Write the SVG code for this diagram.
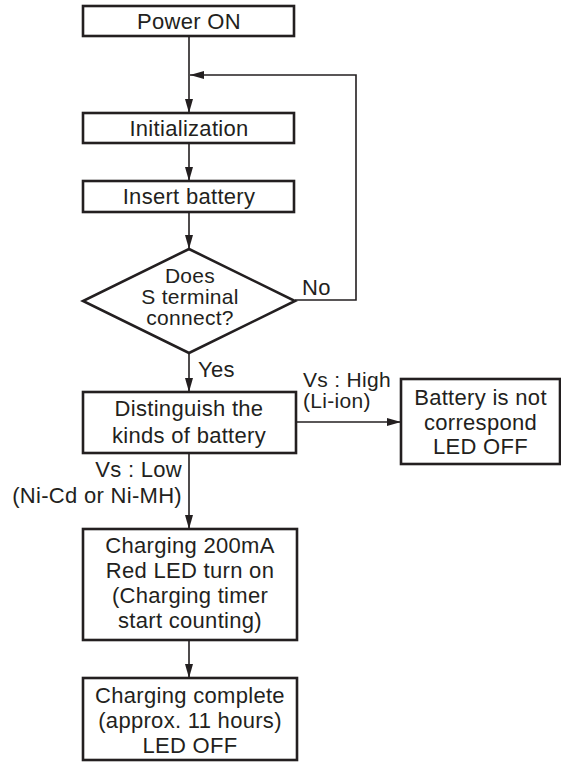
<svg xmlns="http://www.w3.org/2000/svg" width="561" height="764" viewBox="0 0 561 764">
<style>
.box{fill:#fff;stroke:#231f20;stroke-width:2.6}
.ln{fill:none;stroke:#231f20;stroke-width:1.6}
text{font-family:"Liberation Sans",Arial,sans-serif;font-size:22px;fill:#231f20;letter-spacing:0.3px}
.s{font-size:21px}
.c{text-anchor:middle}
.r{text-anchor:end}
</style>
<defs>
<marker id="ah" viewBox="0 0 14 8" refX="14" refY="4" markerWidth="14" markerHeight="8" markerUnits="userSpaceOnUse" orient="auto">
<path d="M0,0 L14,4 L0,8 Z" fill="#231f20"/>
</marker>
</defs>
<rect width="561" height="764" fill="#fff"/>
<g id="connectors">
<line class="ln" x1="189" y1="36" x2="189" y2="113" marker-end="url(#ah)"/>
<line class="ln" x1="189" y1="143" x2="189" y2="181" marker-end="url(#ah)"/>
<line class="ln" x1="189" y1="212" x2="189" y2="249" marker-end="url(#ah)"/>
<polyline class="ln" points="295,300 356,300 356,75 190,75" marker-end="url(#ah)"/>
<line class="ln" x1="189" y1="353" x2="189" y2="392" marker-end="url(#ah)"/>
<line class="ln" x1="296" y1="422" x2="401" y2="422" marker-end="url(#ah)"/>
<line class="ln" x1="189" y1="453" x2="189" y2="529" marker-end="url(#ah)"/>
<line class="ln" x1="189" y1="640" x2="189" y2="678" marker-end="url(#ah)"/>
<text x="302" y="295">No</text>
<text x="198" y="377">Yes</text>
<text class="s" x="303" y="387">Vs : High</text>
<text class="s" x="303" y="408">(Li-ion)</text>
<text class="r" x="182" y="477">Vs : Low</text>
<text class="r" x="182" y="503">(Ni-Cd or Ni-MH)</text>
</g>
<g id="power-on">
<rect class="box" x="83" y="6" width="211" height="30"/>
<text class="c" x="189" y="29">Power ON</text>
</g>
<g id="initialization">
<rect class="box" x="83" y="113" width="211" height="30"/>
<text class="c" x="189" y="136">Initialization</text>
</g>
<g id="insert-battery">
<rect class="box" x="83" y="181" width="211" height="31"/>
<text class="c" x="189" y="204">Insert battery</text>
</g>
<g id="s-terminal">
<polygon class="box" points="189,249 295,301 189,353 83,301"/>
<text class="c s" x="190" y="283">Does</text>
<text class="c s" x="190" y="304">S terminal</text>
<text class="c s" x="190" y="325">connect?</text>
</g>
<g id="distinguish">
<rect class="box" x="83" y="392" width="213" height="61"/>
<text class="c" x="189" y="416">Distinguish the</text>
<text class="c" x="189" y="443">kinds of battery</text>
</g>
<g id="not-correspond">
<rect class="box" x="401" y="379" width="159" height="85"/>
<text class="c" x="480.5" y="405">Battery is not</text>
<text class="c" x="480.5" y="430">correspond</text>
<text class="c" x="480.5" y="454">LED OFF</text>
</g>
<g id="charging">
<rect class="box" x="83" y="529" width="214" height="111"/>
<text class="c" x="190" y="553">Charging 200mA</text>
<text class="c" x="190" y="578">Red LED turn on</text>
<text class="c" x="190" y="603">(Charging timer</text>
<text class="c" x="190" y="628">start counting)</text>
</g>
<g id="complete">
<rect class="box" x="83" y="678" width="214" height="82"/>
<text class="c" x="190" y="703">Charging complete</text>
<text class="c" x="190" y="728">(approx. 11 hours)</text>
<text class="c" x="190" y="753">LED OFF</text>
</g>
</svg>
